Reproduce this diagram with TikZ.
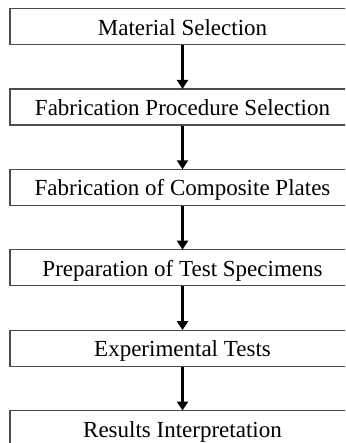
\documentclass[tikz,border=0pt]{standalone}
\usepackage{fontspec}
\setmainfont{Liberation Serif}
\usetikzlibrary{arrows.meta}
\begin{document}
\begin{tikzpicture}[x=1pt,y=-1pt,
  stepbox/.style={draw=black!70, line width=1.2pt, minimum width=345pt, minimum height=36pt, inner sep=0pt, text height=21pt, text depth=4pt, font=\fontsize{23}{26}\selectfont, anchor=north},
  flow/.style={line width=3.4pt, -{Triangle[width=11pt,length=9pt]}, shorten >=-0.5pt}]
\useasboundingbox (0,0) rectangle (345,443);
\clip (0,0) rectangle (345,443);
\node[stepbox] (b1) at (182.5,8) {Material Selection};
\node[stepbox] (b2) at (182.5,88.4) {Fabrication Procedure Selection};
\node[stepbox] (b3) at (182.5,168.8) {Fabrication of Composite Plates};
\node[stepbox] (b4) at (182.5,249.2) {Preparation of Test Specimens};
\node[stepbox] (b5) at (182.5,329.6) {Experimental Tests};
\node[stepbox] (b6) at (182.5,410) {Results Interpretation};
\draw[flow] (b1.south) -- (b2.north);
\draw[flow] (b2.south) -- (b3.north);
\draw[flow] (b3.south) -- (b4.north);
\draw[flow] (b4.south) -- (b5.north);
\draw[flow] (b5.south) -- (b6.north);
\end{tikzpicture}
\end{document}
